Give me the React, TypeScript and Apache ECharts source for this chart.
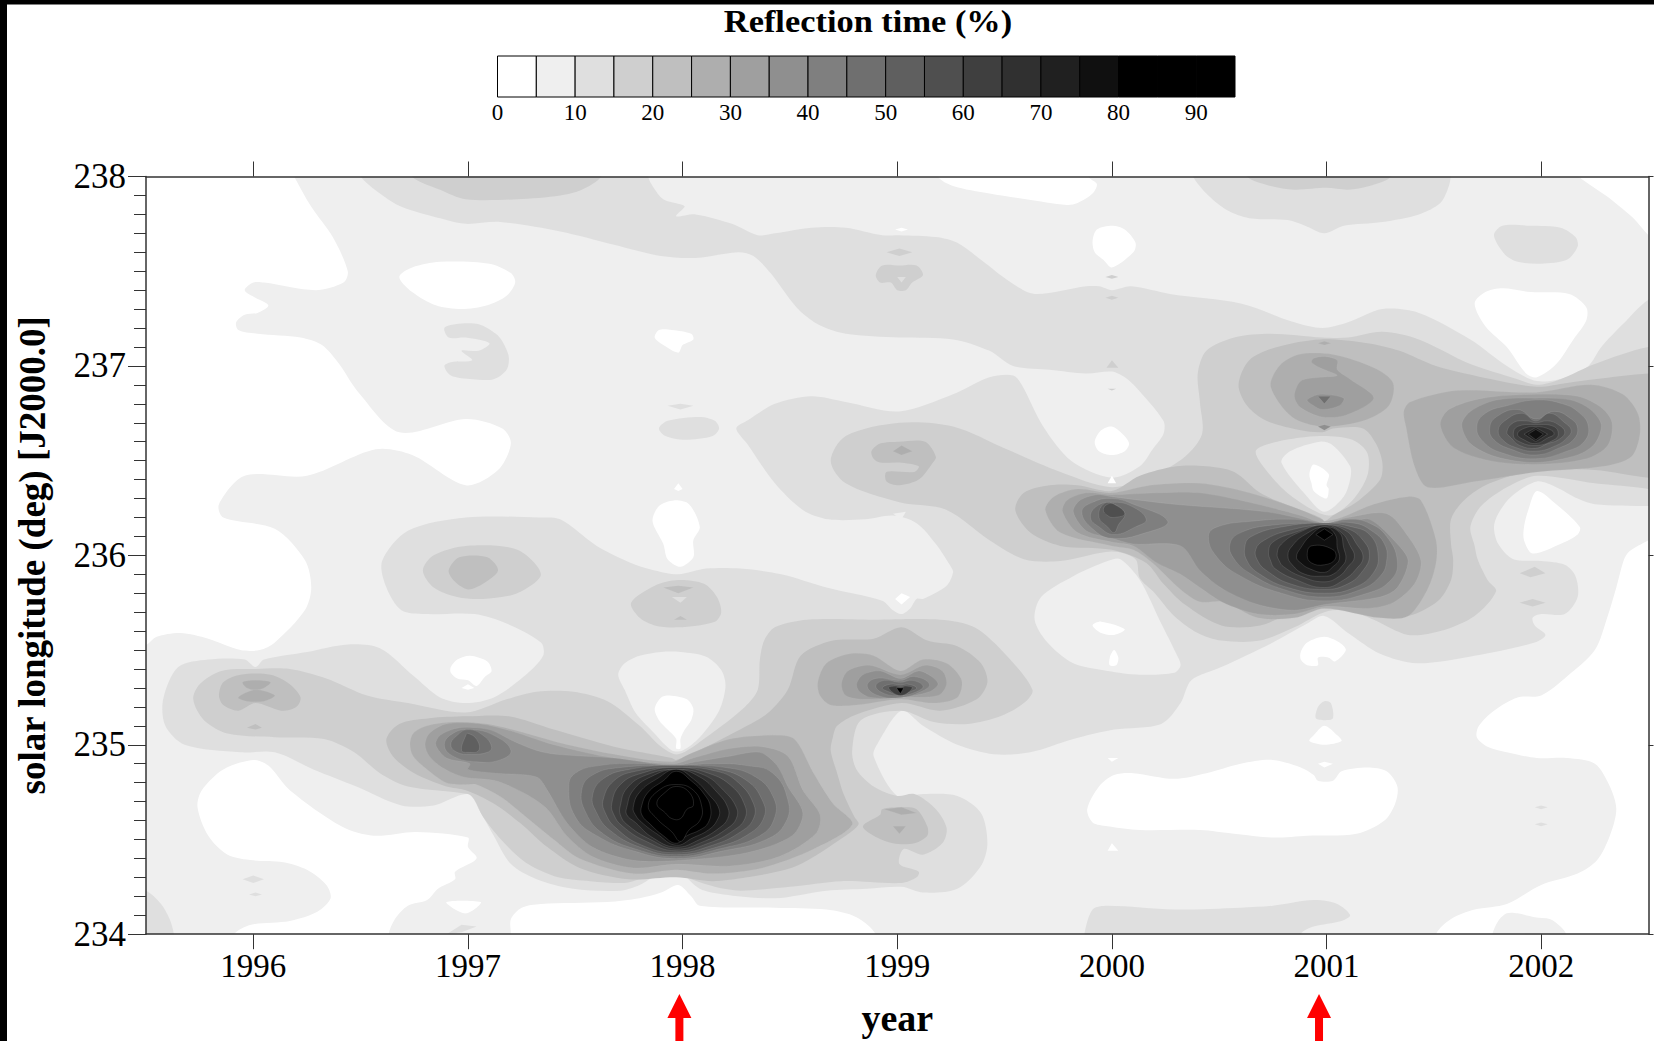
import React, { useEffect, useRef } from "react";
import * as echarts from "echarts";

const yearTicks = [1996, 1997, 1998, 1999, 2000, 2001, 2002];
const legendTicks = [0, 10, 20, 30, 40, 50, 60, 70, 80, 90];
const legendLevels = [0, 5, 10, 15, 20, 25, 30, 35, 40, 45, 50, 55, 60, 65, 70, 75, 80, 85, 90];
const arrowYears = [1997.985, 2000.965];
const levelShades: Record<number, string> = {
  0: "#ffffff", 5: "#efefef", 10: "#dfdfdf", 15: "#cfcfcf", 20: "#bfbfbf", 25: "#aeaeae", 30: "#9f9f9f",
  35: "#8f8f8f", 40: "#7f7f7f", 45: "#6f6f6f", 50: "#5f5f5f", 55: "#4f4f4f", 60: "#3f3f3f", 65: "#303030",
  70: "#202020", 75: "#101010", 80: "#000000", 85: "#000000", 90: "#000000",
};

const base5 = [[1995.5,234, 2002.5,234, 2002.5,238, 1995.5,238]];
const regions10 = [
  [1996.47,238.1, 1996.5,238, 1996.59,237.91, 1996.69,237.84, 1996.9,237.77, 1996.99,237.75, 1997.15,237.76, 1997.43,237.71, 1997.68,237.64, 1997.9,237.58, 1998.06,237.57, 1998.26,237.6, 1998.33,237.58, 1998.41,237.49, 1998.53,237.31, 1998.63,237.22, 1998.76,237.17, 1999.01,237.15, 1999.26,237.14, 1999.43,237.08, 1999.54,237, 1999.71,236.98, 1999.88,236.96, 2000,236.97, 2000.06,236.94, 2000.11,236.89, 2000.24,236.71, 2000.24,236.64, 2000.19,236.56, 2000.13,236.47, 2000,236.41, 1999.81,236.5, 1999.68,236.68, 1999.58,236.9, 1999.54,236.95, 1999.43,236.94, 1999.26,236.85, 1999.01,236.76, 1998.76,236.81, 1998.6,236.84, 1998.43,236.8, 1998.3,236.71, 1998.25,236.67, 1998.3,236.59, 1998.43,236.38, 1998.56,236.24, 1998.68,236.19, 1998.85,236.19, 1998.98,236.21, 1999.09,236.17, 1999.18,236.06, 1999.25,235.94, 1999.26,235.91, 1999.23,235.84, 1999.12,235.77, 1999.09,235.77, 1999.06,235.72, 1999.02,235.69, 1998.98,235.71, 1998.93,235.76, 1998.67,235.83, 1998.46,235.9, 1998.27,235.93, 1998.11,235.93, 1997.98,235.9, 1997.87,235.92, 1997.76,235.96, 1997.6,236.05, 1997.43,236.19, 1997.33,236.2, 1996.99,236.2, 1996.72,236.13, 1996.6,235.97, 1996.62,235.83, 1996.69,235.71, 1996.8,235.69, 1997.03,235.69, 1997.18,235.64, 1997.34,235.54, 1997.35,235.47, 1997.26,235.36, 1997.12,235.25, 1996.99,235.22, 1996.87,235.25, 1996.75,235.36, 1996.59,235.51, 1996.44,235.53, 1996.25,235.49, 1996.05,235.45, 1996.01,235.41, 1995.96,235.45, 1995.79,235.45, 1995.65,235.41, 1995.58,235.24, 1995.59,235.1, 1995.68,235, 1995.94,234.96, 1996.1,234.96, 1996.28,234.87, 1996.48,234.78, 1996.69,234.68, 1996.84,234.68, 1997,234.74, 1997.06,234.64, 1997.12,234.52, 1997.2,234.37, 1997.32,234.29, 1997.49,234.24, 1997.71,234.23, 1997.8,234.26, 1997.88,234.31, 1997.98,234.33, 1998.08,234.24, 1998.19,234.21, 1998.43,234.19, 1998.67,234.23, 1998.86,234.24, 1999.02,234.25, 1999.12,234.22, 1999.28,234.24, 1999.39,234.36, 1999.42,234.48, 1999.39,234.64, 1999.28,234.73, 1999.12,234.74, 1999,234.73, 1998.89,234.94, 1998.91,235.01, 1999.02,235.18, 1999.12,235.1, 1999.28,235, 1999.45,234.95, 1999.62,234.96, 1999.82,235.03, 2000.01,235.08, 2000.23,235.11, 2000.32,235.22, 2000.37,235.34, 2000.51,235.41, 2000.75,235.54, 2000.91,235.64, 2000.99,235.68, 2001.1,235.59, 2001.25,235.48, 2001.42,235.43, 2001.69,235.47, 2001.97,235.54, 2002.02,235.58, 2001.97,235.63, 2001.96,235.67, 2002,235.69, 2002.11,235.69, 2002.17,235.78, 2002.16,235.89, 2002.11,235.95, 2002,235.97, 2001.87,235.98, 2001.8,236.06, 2001.78,236.15, 2001.8,236.22, 2001.86,236.31, 2001.98,236.39, 2002.07,236.36, 2002.17,236.3, 2002.25,236.27, 2002.5,236.26, 2002.7,236.26, 2002.7,237.45, 2002.5,237.35, 2002.38,237.22, 2002.28,237.1, 2002.22,237, 2002.12,236.94, 2001.98,236.92, 2001.84,237, 2001.67,237.14, 2001.43,237.28, 2001.26,237.3, 2001.1,237.23, 2000.98,237.2, 2000.85,237.23, 2000.6,237.33, 2000.27,237.38, 2000.09,237.42, 2000,237.4, 1999.94,237.42, 1999.88,237.42, 1999.64,237.38, 1999.53,237.44, 1999.39,237.56, 1999.28,237.65, 1999.18,237.68, 1999.01,237.69, 1998.93,237.69, 1998.76,237.73, 1998.6,237.73, 1998.43,237.7, 1998.35,237.69, 1998.23,237.75, 1998.06,237.8, 1997.97,237.79, 1998.01,237.84, 1998,237.85, 1997.91,237.88, 1997.86,237.95, 1997.84,238, 1997.84,238.1],
  [2000.37,238.02, 2000.44,237.91, 2000.54,237.82, 2000.64,237.78, 2000.82,237.77, 2000.9,237.74, 2000.99,237.7, 2001.08,237.74, 2001.26,237.76, 2001.43,237.8, 2001.53,237.86, 2001.57,237.95, 2001.58,238.02, 2001.58,238.15, 2000.37,238.15],
  [2001.78,237.69, 2001.82,237.74, 2001.95,237.74, 2002.09,237.73, 2002.16,237.68, 2002.17,237.63, 2002.12,237.56, 2002,237.54, 2001.89,237.55, 2001.83,237.59],
  [1996.89,237.2, 1996.94,237.22, 1997.05,237.22, 1997.13,237.17, 1997.16,237.13, 1997.19,237.05, 1997.18,236.98, 1997.12,236.93, 1997.02,236.93, 1996.92,236.95, 1996.89,237, 1996.92,237.02, 1997.02,237.03, 1996.97,237.08, 1997.05,237.08, 1997.1,237.12, 1996.99,237.15, 1996.91,237.15],
  [1997.89,236.67, 1997.93,236.71, 1998.08,236.73, 1998.15,236.71, 1998.17,236.67, 1998.14,236.63, 1998.01,236.61, 1997.92,236.63],
  [1997.93,236.79, 1997.99,236.8, 1998.05,236.79, 1997.99,236.77],
  [1995.5,234.23, 1995.57,234.16, 1995.61,234.08, 1995.63,234, 1995.63,233.93, 1995.4,233.93, 1995.4,234.25],
  [1999.87,233.9, 1999.87,233.99, 1999.91,234.13, 1999.98,234.15, 2000.29,234.13, 2000.6,234.14, 2000.75,234.15, 2000.94,234.18, 2001.05,234.16, 2001.11,234.1, 2001.07,234.07, 2000.94,234.04, 2000.88,234, 2000.88,233.9],
  [2000.95,235.14, 2000.96,235.2, 2000.99,235.23, 2001.02,235.22, 2001.03,235.14, 2000.99,235.13],
  [1995.95,234.29, 1996,234.31, 1996.05,234.29, 1996,234.27],
  [1995.98,234.21, 1996.01,234.22, 1996.04,234.21, 1996.01,234.2],
  [1996.9,234, 1996.97,234.05, 1997.04,234.04, 1996.97,234.01],
  [2001.97,234.67, 2002,234.68, 2002.03,234.67, 2002,234.66],
  [2001.97,234.58, 2002,234.59, 2002.03,234.58, 2002,234.57],
];
const islands5 = [
  [1997.7,235.37, 1997.73,235.43, 1997.8,235.47, 1997.9,235.49, 1997.99,235.49, 1998.11,235.465, 1998.18,235.395, 1998.2,235.31, 1998.17,235.18, 1998.08,235.04, 1998,234.97, 1997.95,234.97, 1997.86,235.07, 1997.78,235.17, 1997.73,235.29],
  [1999.64,235.66, 1999.67,235.78, 1999.82,235.89, 1999.98,235.97, 2000.04,235.98, 2000.13,235.87, 2000.23,235.64, 2000.3,235.48, 2000.32,235.42, 2000.29,235.38, 2000.13,235.37, 1999.98,235.39, 1999.82,235.43, 1999.7,235.54],
  [1998.98,236.22, 1999.04,236.23, 1999.02,236.19],
];
const regions0 = [
  [1995.3,238.3, 1996.17,238.05, 1996.19,238, 1996.27,237.84, 1996.37,237.68, 1996.44,237.5, 1996.42,237.44, 1996.29,237.4, 1996.05,237.44, 1996,237.44, 1995.96,237.4, 1996.01,237.36, 1996.07,237.32, 1996.02,237.28, 1995.96,237.27, 1995.92,237.23, 1995.93,237.19, 1996.02,237.17, 1996.22,237.15, 1996.32,237.11, 1996.4,237.01, 1996.49,236.86, 1996.68,236.65, 1996.99,236.72, 1997.16,236.67, 1997.2,236.59, 1997.14,236.45, 1996.99,236.37, 1996.74,236.53, 1996.57,236.56, 1996.25,236.42, 1995.96,236.42, 1995.84,236.27, 1995.86,236.2, 1996.1,236.14, 1996.24,235.975, 1996.27,235.83, 1996.24,235.71, 1996.1,235.54, 1996.03,235.5, 1995.94,235.5, 1995.79,235.56, 1995.66,235.59, 1995.55,235.57, 1995.5,235.527, 1995.3,235.45],
  [1996.68,237.47, 1996.74,237.52, 1996.87,237.55, 1997.1,237.54, 1997.2,237.49, 1997.22,237.44, 1997.18,237.37, 1997.09,237.32, 1996.97,237.3, 1996.85,237.32, 1996.74,237.39],
  [1995.74,234.67, 1995.76,234.76, 1995.86,234.87, 1996,234.92, 1996.07,234.89, 1996.17,234.76, 1996.41,234.57, 1996.56,234.52, 1996.76,234.54, 1997,234.51, 1997,234.46, 1997.04,234.4, 1996.94,234.33, 1996.94,234.29, 1996.86,234.24, 1996.81,234.18, 1996.72,234.15, 1996.66,234.08, 1996.63,234, 1996.63,233.93, 1995.91,233.93, 1995.91,234, 1995.99,234.05, 1996.17,234.07, 1996.3,234.12, 1996.36,234.19, 1996.34,234.26, 1996.25,234.34, 1996.14,234.38, 1996,234.39, 1995.88,234.42, 1995.79,234.52],
  [1996.9,234.17, 1997.06,234.17, 1997.04,234.14, 1996.99,234.11, 1996.94,234.13],
  [1997.2,233.9, 1997.2,234, 1997.2,234.08, 1997.25,234.14, 1997.34,234.16, 1997.65,234.17, 1997.8,234.19, 1997.9,234.22, 1997.98,234.26, 1998.04,234.2, 1998.08,234.15, 1998.43,234.14, 1998.67,234.13, 1998.81,234.09, 1998.9,234, 1998.9,233.9],
  [1996.92,235.41, 1996.95,235.45, 1997.01,235.47, 1997.09,235.44, 1997.11,235.39, 1997.08,235.36, 1997.04,235.31, 1997,235.34, 1996.95,235.35, 1996.92,235.38],
  [1996.97,235.3, 1997,235.32, 1997.03,235.3, 1997,235.29],
  [1997.87,235.19, 1997.9,235.25, 1997.94,235.26, 1998.02,235.24, 1998.05,235.19, 1998.04,235.13, 1998.01,235.08, 1997.99,235.03, 1997.99,234.98, 1997.97,234.98, 1997.97,235.03, 1997.93,235.08, 1997.89,235.13],
  [1997.86,236.18, 1997.89,236.26, 1997.96,236.29, 1998.03,236.27, 1998.08,236.15, 1998.05,236.08, 1998.05,235.99, 1997.99,235.94, 1997.93,235.98, 1997.91,236.06],
  [1997.96,236.35, 1997.98,236.38, 1998,236.35, 1997.98,236.34],
  [1997.87,237.15, 1997.89,237.19, 1997.95,237.19, 1998.04,237.17, 1998.05,237.14, 1998,237.11, 1997.98,237.07, 1997.91,237.11],
  [1998.99,237.72, 1999.02,237.73, 1999.05,237.72, 1999.02,237.71],
  [1999.19,238.1, 1999.19,238, 1999.26,237.95, 1999.43,237.91, 1999.6,237.88, 1999.79,237.85, 1999.84,237.86, 1999.91,237.91, 1999.93,237.96, 1999.89,238, 1999.89,238.1],
  [1999.91,237.66, 1999.93,237.72, 2000,237.74, 2000.06,237.72, 2000.11,237.65, 2000.1,237.6, 2000,237.52, 1999.96,237.56, 1999.92,237.6],
  [1999.92,236.6, 1999.95,236.66, 2000,236.68, 2000.05,236.64, 2000.08,236.59, 2000.06,236.55, 2000,236.53, 1999.94,236.55],
  [2000,236.42, 2000.02,236.38, 1999.98,236.38],
  [2001.69,237.33, 2001.74,237.39, 2001.82,237.41, 2001.95,237.39, 2002.13,237.38, 2002.21,237.31, 2002.21,237.24, 2002.15,237.14, 2002.07,237.01, 2001.98,236.94, 2001.93,236.96, 2001.84,237.1, 2001.74,237.21],
  [2001.98,236.34, 2002.07,236.27, 2002.18,236.15, 2002.17,236.11, 2002.09,236.06, 2001.96,236.01, 2001.92,236.08, 2001.92,236.15, 2001.94,236.24],
  [2002.7,233.9, 2001.51,233.9, 2001.51,234, 2001.58,234.08, 2001.69,234.13, 2001.84,234.16, 2002,234.26, 2002.17,234.32, 2002.26,234.39, 2002.32,234.52, 2002.35,234.66, 2002.32,234.78, 2002.25,234.9, 2002.12,234.93, 2001.98,234.93, 2001.84,234.96, 2001.75,234.99, 2001.7,235.04, 2001.71,235.1, 2001.78,235.18, 2001.89,235.25, 2002,235.26, 2002.12,235.36, 2002.25,235.5, 2002.31,235.68, 2002.35,235.83, 2002.385,235.975, 2002.41,236.02, 2002.5,236.08, 2002.7,236.2],
  [2002.15,238.05, 2002.33,237.875, 2002.43,237.78, 2002.5,237.69, 2002.7,237.5, 2002.7,238.2],
  [1999.885,234.66, 1999.94,234.78, 2000.01,234.84, 2000.1,234.85, 2000.29,234.82, 2000.44,234.85, 2000.6,234.9, 2000.75,234.92, 2000.88,234.88, 2000.94,234.84, 2000.96,234.81, 2001.03,234.81, 2001.07,234.86, 2001.19,234.88, 2001.28,234.86, 2001.33,234.78, 2001.32,234.69, 2001.27,234.6, 2001.14,234.53, 2000.91,234.52, 2000.75,234.51, 2000.57,234.53, 2000.41,234.55, 2000.13,234.55, 1999.98,234.57, 1999.91,234.59],
  [1999.91,235.63, 1999.95,235.65, 2000.06,235.61, 2000.01,235.58, 1999.95,235.59],
  [1999.99,235.46, 2000.01,235.5, 2000.03,235.46, 2000.02,235.42, 1999.99,235.42],
  [1999.98,234.93, 2000.03,234.93, 2000,234.91],
  [1999.98,234.44, 2000,234.48, 2000.03,234.44],
  [2000.88,235.49, 2000.91,235.54, 2000.99,235.57, 2001.06,235.54, 2001.09,235.5, 2001.04,235.44, 2001.01,235.46, 2000.96,235.46, 2000.96,235.42, 2000.91,235.42, 2000.88,235.45],
  [2000.92,235.02, 2000.94,235.05, 2000.99,235.1, 2001.05,235.05, 2001.07,235.02, 2000.99,235],
  [2000.96,234.9, 2000.99,234.91, 2001.03,234.9, 2000.99,234.88],
  [1998.99,235.77, 1999.02,235.8, 1999.06,235.78, 1999.02,235.74],
];
const regions15 = [
  [1996.74,238.1, 1996.74,238, 1996.87,237.93, 1996.99,237.88, 1997.23,237.88, 1997.43,237.9, 1997.53,237.93, 1997.62,238, 1997.62,238.1],
  [2000.63,238.1, 2000.63,238, 2000.74,237.95, 2000.85,237.93, 2001,237.94, 2001.1,237.93, 2001.2,237.95, 2001.3,238, 2001.3,238.1],
  [1998.9,237.48, 1998.93,237.53, 1999.01,237.53, 1999.09,237.53, 1999.12,237.48, 1999.07,237.44, 1999.04,237.4, 1999,237.4, 1998.97,237.44, 1998.92,237.44],
  [1998.95,237.6, 1999.01,237.62, 1999.07,237.6, 1999.01,237.58],
  [1996.79,235.92, 1996.84,236, 1996.99,236.05, 1997.23,236.03, 1997.34,235.9, 1997.23,235.8, 1997.07,235.77, 1996.95,235.78, 1996.84,235.83],
  [1997.76,235.75, 1997.87,235.84, 1997.98,235.87, 1998.1,235.85, 1998.16,235.78, 1998.18,235.7, 1998.15,235.65, 1997.98,235.62, 1997.87,235.63, 1997.8,235.67],
  [1995.72,235.24, 1995.75,235.32, 1995.85,235.39, 1996.01,235.4, 1996.17,235.4, 1996.34,235.35, 1996.53,235.26, 1996.72,235.22, 1996.99,235.17, 1997.18,235.24, 1997.32,235.28, 1997.49,235.28, 1997.65,235.23, 1997.8,235.1, 1997.9,234.99, 1997.98,234.95, 1998.11,235.04, 1998.29,235.2, 1998.35,235.29, 1998.36,235.45, 1998.38,235.55, 1998.43,235.62, 1998.58,235.66, 1998.89,235.66, 1999.2,235.66, 1999.36,235.62, 1999.51,235.47, 1999.63,235.29, 1999.59,235.22, 1999.48,235.15, 1999.33,235.11, 1999.17,235.12, 1999.02,235.18, 1998.83,235.13, 1998.79,234.97, 1998.81,234.87, 1998.89,234.78, 1999,234.73, 1999.08,234.74, 1999.18,234.66, 1999.23,234.56, 1999.21,234.48, 1999.12,234.42, 1999.03,234.45, 1999.01,234.37, 1999.1,234.33, 1999.09,234.3, 1999.02,234.27, 1998.74,234.28, 1998.5,234.25, 1998.27,234.23, 1998.15,234.25, 1998.02,234.3, 1997.98,234.34, 1997.9,234.31, 1997.8,234.29, 1997.73,234.27, 1997.57,234.28, 1997.42,234.3, 1997.28,234.37, 1997.17,234.48, 1997.07,234.62, 1997.03,234.71, 1997,234.74, 1996.72,234.78, 1996.59,234.85, 1996.47,234.96, 1996.33,235.03, 1996.1,235.04, 1995.88,235.06, 1995.77,235.13],
  [1998.69,236.5, 1998.76,236.63, 1999.01,236.7, 1999.26,236.68, 1999.51,236.56, 1999.76,236.44, 2000,236.36, 2000.19,236.42, 2000.34,236.52, 2000.42,236.64, 2000.41,236.81, 2000.4,236.96, 2000.44,237.08, 2000.57,237.15, 2000.74,237.17, 2000.98,237.15, 2001.1,237.15, 2001.26,237.18, 2001.43,237.14, 2001.67,237.01, 2001.89,236.93, 2001.98,236.9, 2002.09,236.93, 2002.25,237.01, 2002.5,237.1, 2002.7,237.1, 2002.7,236.3, 2002.5,236.35, 2002.25,236.38, 2001.98,236.42, 2001.84,236.36, 2001.72,236.26, 2001.67,236.15, 2001.69,236.05, 2001.705,235.975, 2001.75,235.87, 2001.79,235.81, 2001.69,235.68, 2001.53,235.6, 2001.38,235.58, 2001.22,235.66, 2001.1,235.71, 2000.99,235.7, 2000.85,235.62, 2000.69,235.55, 2000.51,235.55, 2000.4,235.59, 2000.29,235.68, 2000.2,235.8, 2000.13,235.88, 2000.11,235.98, 2000,236.02, 1999.76,235.97, 1999.59,235.98, 1999.43,236.08, 1999.23,236.24, 1999.01,236.28, 1998.76,236.38],
  [2001.9,235.905, 2001.97,235.94, 2002.02,235.905, 2001.95,235.885],
  [2001.9,235.75, 2001.96,235.77, 2002.02,235.75, 2001.96,235.73],
  [2000,237.48, 2000.03,237.47, 2000,237.46, 1999.97,237.47],
  [2000,237.37, 2000.03,237.36, 2000,237.35, 1999.97,237.36],
  [1999.975,236.99, 2000,237.03, 2000.03,236.99],
  [1999.98,236.88, 2000.02,236.88, 2000,236.87],
];
const channel10 = [
  [2000.67,236.55, 2000.77,236.6, 2000.97,236.63, 2001.12,236.61, 2001.19,236.54, 2001.19,236.42, 2001.12,236.29, 2001.01,236.21, 2000.84,236.31, 2000.74,236.42],
  [1999,237.47, 1999.04,237.47, 1999.02,237.44],
  [1997.95,235.78, 1998.02,235.78, 1997.99,235.75],
];
const channel5 = [
  [2000.79,236.49, 2000.83,236.55, 2000.97,236.6, 2001.03,236.58, 2001.11,236.47, 2001.11,236.4, 2001.08,236.31, 2000.99,236.23, 2000.91,236.31],
  [2001.77,233.9, 2001.77,233.99, 2001.8,234.07, 2001.84,234.11, 2001.89,234.11, 2001.97,234.09, 2002.04,234.08, 2002.09,234.04, 2002.12,233.99, 2002.12,233.9],
];
const channel0 = [
  [2000.92,236.43, 2000.94,236.48, 2001.01,236.43, 2001,236.37, 2001.01,236.35, 2001,236.3, 2000.94,236.34, 2000.93,236.38],
];
const regions20 = [
  [1996.62,235.03, 1996.68,235.11, 1996.82,235.14, 1996.99,235.15, 1997.19,235.15, 1997.4,235.08, 1997.68,234.99, 1997.95,234.93, 1997.97,234.92, 1998.06,234.96, 1998.3,235.1, 1998.4,235.17, 1998.49,235.29, 1998.55,235.47, 1998.7,235.55, 1998.89,235.56, 1999.02,235.62, 1999.14,235.55, 1999.28,235.52, 1999.39,235.43, 1999.42,235.33, 1999.37,235.24, 1999.2,235.18, 1999.02,235.22, 1998.81,235.16, 1998.72,235.1, 1998.7,235.04, 1998.69,234.97, 1998.72,234.85, 1998.75,234.74, 1998.8,234.62, 1998.82,234.58, 1998.76,234.52, 1998.53,234.36, 1998.3,234.3, 1998.14,234.28, 1997.97,234.3, 1997.75,234.29, 1997.52,234.35, 1997.37,234.46, 1997.24,234.59, 1997.12,234.69, 1996.99,234.76, 1996.9,234.78, 1996.75,234.85, 1996.65,234.94],
  [1998.84,234.57, 1998.92,234.63, 1998.93,234.66, 1999.02,234.67, 1999.09,234.66, 1999.14,234.57, 1999.14,234.52, 1999.08,234.48, 1998.98,234.48, 1998.89,234.52],
  [1995.84,235.26, 1995.86,235.33, 1995.94,235.37, 1996.08,235.37, 1996.17,235.32, 1996.22,235.25, 1996.2,235.2, 1996.13,235.18, 1996.01,235.22, 1995.93,235.18, 1995.86,235.21],
  [1995.97,235.09, 1996.01,235.11, 1996.04,235.09, 1996.01,235.08],
  [1998.88,236.55, 1998.92,236.59, 1999.01,236.6, 1999.13,236.6, 1999.18,236.52, 1999.16,236.48, 1999.1,236.4, 1999.01,236.37, 1998.95,236.39, 1998.95,236.44, 1999.08,236.44, 1999.1,236.47, 1999.01,236.49, 1998.92,236.49, 1998.89,236.51],
  [1996.91,235.92, 1996.96,235.99, 1997.09,235.99, 1997.14,235.92, 1997.07,235.85, 1997,235.82, 1996.94,235.86],
  [1997.91,235.83, 1997.98,235.84, 1998.05,235.83, 1997.98,235.8],
  [1997.96,235.66, 1997.99,235.68, 1998.02,235.66],
  [2000.59,236.9, 2000.64,237.03, 2000.77,237.1, 2000.97,237.14, 2001.19,237.12, 2001.34,237.08, 2001.51,237, 2001.77,236.93, 2001.98,236.89, 2002.12,236.91, 2002.25,236.93, 2002.5,236.96, 2002.7,236.96, 2002.7,236.41, 2002.5,236.41, 2002.25,236.45, 2001.98,236.45, 2001.76,236.38, 2001.64,236.29, 2001.58,236.19, 2001.58,236.06, 2001.59,235.975, 2001.58,235.87, 2001.52,235.76, 2001.38,235.68, 2001.22,235.7, 2001.1,235.74, 2000.99,235.75, 2000.86,235.71, 2000.69,235.63, 2000.51,235.63, 2000.34,235.74, 2000.24,235.85, 2000.16,235.96, 2000,236.03, 1999.76,236.05, 1999.62,236.12, 1999.55,236.24, 1999.59,236.33, 1999.71,236.37, 1999.84,236.37, 2000,236.34, 2000.13,236.42, 2000.3,236.47, 2000.44,236.47, 2000.57,236.44, 2000.69,236.33, 2000.81,236.27, 2000.97,236.2, 2000.99,236.18, 2001.03,236.21, 2001.15,236.29, 2001.25,236.4, 2001.26,236.49, 2001.23,236.59, 2001.17,236.67, 2001.03,236.67, 2000.98,236.65, 2000.88,236.66, 2000.72,236.71, 2000.63,236.79],
];
const regions25 = [
  [1996.73,235, 1996.745,235.06, 1996.81,235.1, 1996.93,235.12, 1997.09,235.11, 1997.24,235.07, 1997.43,235.01, 1997.68,234.95, 1997.95,234.91, 1998.03,234.95, 1998.22,235.03, 1998.42,235.05, 1998.52,235.03, 1998.61,234.85, 1998.7,234.69, 1998.79,234.58, 1998.61,234.45, 1998.37,234.35, 1998.14,234.32, 1997.97,234.34, 1997.77,234.32, 1997.52,234.4, 1997.4,234.5, 1997.27,234.62, 1997.16,234.72, 1997.04,234.79, 1996.99,234.79, 1996.9,234.8, 1996.81,234.87, 1996.745,234.94],
  [1999.69,236.24, 1999.73,236.31, 1999.84,236.35, 2000,236.33, 2000.18,236.37, 2000.41,236.38, 2000.64,236.33, 2000.88,236.24, 2000.98,236.19, 2000.99,236.18, 2001.07,236.2, 2001.22,236.27, 2001.38,236.31, 2001.44,236.29, 2001.51,236.08, 2001.51,235.96, 2001.47,235.82, 2001.38,235.68, 2001.25,235.67, 2000.99,235.72, 2000.85,235.67, 2000.68,235.67, 2000.52,235.755, 2000.41,235.755, 2000.32,235.82, 2000.19,235.96, 2000.1,236.03, 2000,236.05, 1999.76,236.12],
  [2000.74,236.89, 2000.78,237, 2000.87,237.06, 2001.03,237.06, 2001.22,236.99, 2001.31,236.91, 2001.29,236.79, 2001.17,236.71, 2000.98,236.68, 2000.84,236.73],
  [2000.96,237.12, 2000.99,237.13, 2001.02,237.12, 2000.99,237.11],
  [2001.36,236.76, 2001.39,236.81, 2001.61,236.87, 2001.975,236.86, 2002.23,236.9, 2002.38,236.85, 2002.45,236.75, 2002.46,236.64, 2002.42,236.52, 2002.29,236.47, 2001.98,236.44, 2001.69,236.39, 2001.47,236.36, 2001.41,236.47, 2001.37,236.68],
  [1998.63,235.33, 1998.67,235.43, 1998.78,235.48, 1998.89,235.47, 1999.015,235.39, 1999.12,235.45, 1999.23,235.43, 1999.3,235.34, 1999.28,235.25, 1999.17,235.22, 1999.015,235.24, 1998.81,235.21, 1998.69,235.21, 1998.64,235.26],
  [1995.95,235.33, 1996.01,235.34, 1996.08,235.33, 1996.05,235.3, 1996.01,235.29, 1995.97,235.3],
  [1995.93,235.25, 1996.01,235.29, 1996.1,235.26, 1996.05,235.23, 1995.97,235.23],
  [1998.98,236.55, 1999.02,236.58, 1999.07,236.55, 1999.02,236.53],
  [1998.98,234.57, 1999.04,234.57, 1999.01,234.53],
  [1998.94,234.66, 1999.02,234.67, 1999.09,234.64, 1999.02,234.63],
];
const regions30 = [
  [1996.8,235, 1996.82,235.06, 1996.9,235.11, 1997.06,235.11, 1997.21,235.07, 1997.4,235, 1997.68,234.93, 1997.96,234.9, 1998.05,234.93, 1998.22,234.98, 1998.37,234.99, 1998.49,234.94, 1998.56,234.76, 1998.64,234.63, 1998.62,234.53, 1998.45,234.41, 1998.22,234.36, 1997.97,234.37, 1997.77,234.35, 1997.58,234.41, 1997.46,234.52, 1997.37,234.66, 1997.27,234.74, 1997.13,234.81, 1996.98,234.83, 1996.88,234.88, 1996.82,234.94],
  [1999.77,236.23, 1999.79,236.29, 1999.88,236.33, 2000,236.32, 2000.21,236.33, 2000.41,236.33, 2000.64,236.28, 2000.88,236.21, 2000.99,236.17, 2001.1,236.2, 2001.28,236.22, 2001.38,236.1, 2001.44,235.97, 2001.41,235.85, 2001.31,235.75, 2001.19,235.72, 2000.99,235.73, 2000.85,235.69, 2000.68,235.69, 2000.52,235.75, 2000.41,235.83, 2000.32,235.9, 2000.21,235.96, 2000.1,236.05, 2000,236.07, 1999.84,236.12],
  [2000.85,236.84, 2000.88,236.92, 2000.97,236.94, 2001.05,236.95, 2000.97,236.99, 2000.93,237.02, 2000.94,237.04, 2000.99,237.05, 2001.05,237.03, 2001.05,236.98, 2001.11,236.93, 2001.22,236.83, 2001.09,236.74, 2000.98,236.73, 2000.88,236.78],
  [2001.53,236.69, 2001.57,236.77, 2001.73,236.83, 2001.975,236.85, 2002.17,236.84, 2002.28,236.78, 2002.33,236.7, 2002.31,236.58, 2002.21,236.51, 2001.975,236.48, 2001.76,236.5, 2001.59,236.57],
  [1998.74,235.32, 1998.77,235.39, 1998.87,235.42, 1999.015,235.37, 1999.13,235.42, 1999.21,235.39, 1999.23,235.32, 1999.19,235.26, 1999.015,235.25, 1998.84,235.24, 1998.76,235.26],
];
const regions35 = [
  [1996.85,235, 1996.87,235.05, 1996.96,235.09, 1997.1,235.08, 1997.21,235.02, 1997.32,234.97, 1997.41,234.95, 1997.68,234.93, 1997.96,234.89, 1998.06,234.91, 1998.22,234.94, 1998.36,234.96, 1998.44,234.89, 1998.49,234.78, 1998.56,234.64, 1998.51,234.52, 1998.3,234.43, 1997.99,234.39, 1997.77,234.39, 1997.58,234.46, 1997.46,234.59, 1997.37,234.76, 1997.32,234.83, 1997.13,234.85, 1997,234.87, 1997.01,234.9, 1996.9,234.93],
  [1999.82,236.23, 1999.85,236.29, 1999.93,236.32, 2000,236.31, 2000.29,236.27, 2000.72,236.23, 2000.99,236.17, 2001.1,236.17, 2001.2,236.19, 2001.33,236.06, 2001.38,235.97, 2001.33,235.83, 2001.25,235.78, 2000.99,235.74, 2000.85,235.71, 2000.68,235.74, 2000.52,235.82, 2000.41,235.92, 2000.32,236.05, 2000.1,236.06, 2000,236.09, 1999.88,236.13],
  [2000.91,236.82, 2000.97,236.85, 2001.08,236.83, 2001.06,236.79, 2000.98,236.77, 2000.94,236.79],
  [2000.96,236.68, 2000.99,236.69, 2001.02,236.68, 2000.99,236.66],
  [2001.63,236.69, 2001.67,236.76, 2001.79,236.82, 2001.975,236.83, 2002.14,236.82, 2002.23,236.77, 2002.28,236.69, 2002.25,236.59, 2002.17,236.53, 2001.975,236.49, 2001.79,236.52, 2001.67,236.59],
  [1998.81,235.32, 1998.84,235.37, 1998.92,235.39, 1999.015,235.35, 1999.1,235.39, 1999.16,235.36, 1999.19,235.32, 1999.15,235.28, 1999.015,235.25, 1998.875,235.25, 1998.825,235.28],
];
const regions40 = [
  [1996.89,235, 1996.93,235.06, 1997.01,235.08, 1997.12,235.05, 1997.2,234.97, 1997.15,234.92, 1997.04,234.91, 1996.93,234.94],
  [1997.47,234.78, 1997.5,234.85, 1997.61,234.89, 1997.8,234.9, 1997.97,234.89, 1998.14,234.9, 1998.3,234.89, 1998.42,234.85, 1998.49,234.71, 1998.48,234.59, 1998.39,234.5, 1998.19,234.44, 1997.97,234.4, 1997.77,234.44, 1997.6,234.52, 1997.5,234.62],
  [1999.86,236.23, 1999.91,236.28, 2000,236.3, 2000.1,236.27, 2000.26,236.18, 2000.16,236.12, 2000,236.09, 1999.91,236.14],
  [2000.45,236.1, 2000.49,236.15, 2000.65,236.18, 2000.85,236.19, 2000.99,236.17, 2001.11,236.19, 2001.2,236.17, 2001.28,236.1, 2001.33,235.97, 2001.3,235.87, 2001.19,235.8, 2000.99,235.76, 2000.79,235.8, 2000.6,235.89, 2000.49,235.99],
  [2001.7,236.68, 2001.74,236.75, 2001.84,236.79, 2001.975,236.82, 2002.1,236.8, 2002.18,236.75, 2002.22,236.68, 2002.2,236.6, 2002.12,236.55, 2001.975,236.51, 2001.82,236.54, 2001.73,236.6],
  [1998.86,235.31, 1998.9,235.35, 1999.015,235.34, 1999.08,235.36, 1999.15,235.32, 1999.11,235.28, 1999.015,235.25, 1998.91,235.26],
];
const regions45 = [
  [1996.92,235, 1996.95,235.05, 1997,235.08, 1997.07,235.05, 1997.11,234.99, 1997.09,234.96, 1997.01,234.95, 1996.95,234.96],
  [1997.53,234.76, 1997.58,234.84, 1997.71,234.88, 1997.97,234.89, 1998.2,234.88, 1998.34,234.83, 1998.42,234.73, 1998.43,234.62, 1998.36,234.52, 1998.17,234.45, 1997.97,234.41, 1997.78,234.45, 1997.63,234.53, 1997.55,234.64],
  [1999.9,236.2, 1999.93,236.26, 2000,236.28, 2000.09,236.26, 2000.16,236.19, 2000.11,236.15, 2000.01,236.11, 1999.94,236.15],
  [2000.55,236.06, 2000.6,236.12, 2000.75,236.16, 2000.99,236.17, 2001.13,236.17, 2001.21,236.13, 2001.27,236.06, 2001.28,235.97, 2001.25,235.89, 2001.16,235.82, 2000.99,235.78, 2000.8,235.82, 2000.65,235.9, 2000.57,235.98],
  [2000.96,236.84, 2001.02,236.84, 2000.99,236.8],
  [2001.76,236.67, 2001.79,236.73, 2001.89,236.77, 2001.975,236.72, 2002.06,236.76, 2002.14,236.72, 2002.17,236.67, 2002.15,236.61, 2002.09,236.57, 2001.975,236.53, 2001.86,236.56, 2001.78,236.61],
  [1998.9,235.31, 1998.94,235.34, 1999.015,235.33, 1999.07,235.34, 1999.12,235.31, 1999.09,235.28, 1999.015,235.26, 1998.94,235.27],
];
const regions50 = [
  [1996.97,234.97, 1996.99,235.05, 1997,235.06, 1997.04,235.03, 1997.05,234.97, 1997,234.96],
  [1997.58,234.73, 1997.63,234.82, 1997.75,234.87, 1997.97,234.89, 1998.17,234.87, 1998.3,234.81, 1998.37,234.71, 1998.38,234.62, 1998.31,234.53, 1998.16,234.46, 1997.97,234.42, 1997.8,234.46, 1997.66,234.55, 1997.6,234.64],
  [1999.94,236.2, 1999.96,236.27, 2000.01,236.27, 2000.06,236.22, 2000.03,236.16, 2000.01,236.12, 1999.98,236.15],
  [2000.62,236.05, 2000.65,236.1, 2000.79,236.15, 2000.99,236.17, 2001.12,236.15, 2001.2,236.11, 2001.24,236.01, 2001.22,235.91, 2001.13,235.83, 2000.99,235.8, 2000.82,235.83, 2000.69,235.9, 2000.63,235.97],
  [2001.8,236.66, 2001.83,236.71, 2001.91,236.75, 2001.975,236.71, 2002.04,236.75, 2002.11,236.7, 2002.14,236.66, 2002.12,236.62, 2002.07,236.58, 2001.975,236.55, 2001.88,236.57, 2001.82,236.61],
  [1998.93,235.3, 1998.97,235.32, 1999.015,235.315, 1999.05,235.32, 1999.09,235.3, 1999.06,235.28, 1999.015,235.26, 1998.96,235.28],
];
const regions55 = [
  [1997.63,234.71, 1997.68,234.81, 1997.78,234.86, 1997.97,234.88, 1998.16,234.86, 1998.26,234.8, 1998.33,234.69, 1998.33,234.61, 1998.27,234.54, 1998.14,234.47, 1997.97,234.43, 1997.81,234.47, 1997.69,234.56, 1997.64,234.64],
  [1999.96,236.24, 1999.98,236.27, 2000.01,236.27, 2000.06,236.22, 2000.01,236.2, 1999.98,236.21],
  [2000.67,236.03, 2000.71,236.08, 2000.82,236.13, 2000.99,236.16, 2001.1,236.14, 2001.17,236.08, 2001.2,236, 2001.17,235.92, 2001.1,235.85, 2000.99,235.82, 2000.83,235.85, 2000.72,235.92, 2000.68,235.97],
  [2001.84,236.65, 2001.87,236.7, 2001.93,236.71, 2001.975,236.7, 2002.03,236.71, 2002.08,236.69, 2002.11,236.65, 2002.08,236.61, 2002.03,236.59, 2001.975,236.565, 2001.9,236.58, 2001.86,236.62],
];
const regions60 = [
  [1997.67,234.69, 1997.71,234.79, 1997.81,234.85, 1997.97,234.88, 1998.12,234.85, 1998.23,234.78, 1998.29,234.68, 1998.29,234.61, 1998.24,234.55, 1998.12,234.48, 1997.97,234.44, 1997.83,234.49, 1997.72,234.57, 1997.68,234.63],
  [2000.73,236.02, 2000.75,236.07, 2000.85,236.12, 2000.99,236.16, 2001.09,236.13, 2001.14,236.06, 2001.17,235.99, 2001.14,235.93, 2001.08,235.87, 2000.99,235.83, 2000.86,235.87, 2000.76,235.93, 2000.74,235.97],
  [2001.87,236.64, 2001.89,236.68, 2001.975,236.69, 2002.06,236.68, 2002.08,236.64, 2002.06,236.61, 2001.975,236.58, 2001.89,236.605],
  [1998.96,235.3, 1998.99,235.31, 1999.015,235.305, 1999.04,235.31, 1999.07,235.3, 1999.015,235.26],
];
const regions65 = [
  [1997.71,234.68, 1997.74,234.77, 1997.83,234.84, 1997.97,234.87, 1998.1,234.84, 1998.19,234.76, 1998.25,234.67, 1998.25,234.61, 1998.21,234.56, 1998.1,234.49, 1997.97,234.45, 1997.85,234.5, 1997.74,234.58, 1997.71,234.63],
  [2000.77,236.01, 2000.79,236.06, 2000.87,236.12, 2000.99,236.16, 2001.07,236.12, 2001.11,236.05, 2001.13,235.99, 2001.1,235.94, 2001.06,235.89, 2000.99,235.86, 2000.88,235.89, 2000.8,235.94, 2000.78,235.97],
  [2001.89,236.64, 2001.92,236.67, 2001.975,236.68, 2002.04,236.665, 2002.06,236.64, 2002.03,236.62, 2001.975,236.59, 2001.92,236.61],
];
const regions70 = [
  [1997.74,234.67, 1997.77,234.76, 1997.85,234.83, 1997.97,234.87, 1998.08,234.83, 1998.16,234.75, 1998.21,234.67, 1998.21,234.61, 1998.17,234.56, 1998.08,234.5, 1997.97,234.46, 1997.86,234.51, 1997.78,234.59, 1997.74,234.63],
  [2000.82,236, 2000.84,236.05, 2000.9,236.11, 2000.99,236.15, 2001.06,236.12, 2001.08,236.04, 2001.09,235.98, 2001.07,235.94, 2001.03,235.9, 2000.99,235.89, 2000.9,235.9, 2000.84,235.95],
  [2001.92,236.64, 2001.975,236.675, 2002.03,236.64, 2001.975,236.6],
];
const regions75 = [
  [1997.77,234.67, 1997.8,234.75, 1997.88,234.82, 1997.97,234.87, 1998.05,234.82, 1998.12,234.74, 1998.17,234.66, 1998.16,234.6, 1998.12,234.55, 1998.05,234.51, 1997.97,234.47, 1997.88,234.53, 1997.81,234.59, 1997.78,234.63],
  [2000.86,235.99, 2000.88,236.04, 2000.93,236.11, 2000.99,236.15, 2001.04,236.11, 2001.05,236.04, 2001.06,235.98, 2001.03,235.94, 2000.99,235.91, 2000.92,235.93, 2000.88,235.96],
  [2001.94,236.64, 2001.975,236.665, 2002.01,236.64, 2001.975,236.61],
];
const regions80 = [
  [1997.81,234.68, 1997.84,234.75, 1997.91,234.81, 1997.97,234.86, 1998.04,234.81, 1998.1,234.74, 1998.13,234.67, 1998.12,234.59, 1998.08,234.55, 1998.02,234.52, 1997.97,234.48, 1997.91,234.52, 1997.85,234.58, 1997.81,234.63],
  [2000.91,236, 2000.93,236.05, 2001.03,236.03, 2001.04,235.98, 2000.99,235.95, 2000.93,235.96],
  [2000.95,236.11, 2000.99,236.14, 2001.03,236.11, 2000.99,236.08],
  [1998.996,235.3, 1999.03,235.3, 1999.015,235.27],
];
const regions85 = [
  [1997.84,234.68, 1997.89,234.76, 1997.97,234.79, 1998.05,234.76, 1998.09,234.67, 1998.08,234.6, 1998.03,234.55, 1997.99,234.49, 1997.95,234.54, 1997.88,234.61],
];
const regions90 = [
  [1997.88,234.69, 1997.92,234.75, 1997.97,234.78, 1998.03,234.75, 1998.05,234.68, 1998.02,234.66, 1997.99,234.61, 1997.95,234.61, 1997.92,234.64],
];

const paintOrder: [number, number[][]][] = [
  [5, base5], [10, regions10], [5, islands5], [0, regions0], [15, regions15], [10, channel10], [5, channel5], [0, channel0],
  [20, regions20], [25, regions25], [30, regions30], [35, regions35], [40, regions40], [45, regions45], [50, regions50],
  [55, regions55], [60, regions60], [65, regions65], [70, regions70], [75, regions75], [80, regions80], [85, regions85], [90, regions90],
];

const serif = "Liberation Serif";

export default function App() {
  const ref = useRef<HTMLDivElement>(null);
  useEffect(() => {
    const chart = echarts.init(ref.current!, undefined, { renderer: "svg" });
    const flat: { level: number; pts: number[][] }[] = [];
    paintOrder.forEach(([level, polys]) => {
      polys.forEach((p) => {
        const pts: number[][] = [];
        for (let i = 0; i < p.length; i += 2) pts.push([p[i], p[i + 1]]);
        flat.push({ level, pts });
      });
    });
    const arrow = (year: number) => {
      const x = 146 + ((year - 1995.5) / 7) * 1502.5;
      return {
        type: "polygon",
        silent: true,
        shape: { points: [[x, 994], [x + 12, 1018], [x + 4, 1018], [x + 4, 1041], [x - 4, 1041], [x - 4, 1018], [x - 12, 1018]] },
        style: { fill: "#ff0000" },
      };
    };
    const mainX = {
      type: "value" as const, min: 1995.5, max: 2002.5, gridIndex: 0, z: 5,
      splitLine: { show: false },
      axisLine: { show: true, onZero: false, lineStyle: { color: "#333", width: 1.5 } },
      axisTick: { show: true, customValues: yearTicks, length: 15, lineStyle: { color: "#333", width: 1 } },
    };
    const mainY = {
      type: "value" as const, min: 234, max: 238, interval: 1, gridIndex: 0, z: 5,
      splitLine: { show: false },
      axisLine: { show: true, onZero: false, lineStyle: { color: "#333", width: 1.5 } },
    };
    chart.setOption({
      animation: false,
      backgroundColor: "#ffffff",
      textStyle: { fontFamily: serif },
      grid: [
        { left: 146, top: 176.5, width: 1502.5, height: 757.7, outerBoundsMode: "none" },
        { left: 497.5, top: 56, width: 737.5, height: 41, outerBoundsMode: "none" },
      ],
      xAxis: [
        {
          ...mainX, position: "bottom",
          name: "year", nameLocation: "middle", nameGap: 65,
          nameTextStyle: { fontFamily: serif, fontWeight: "bold", fontSize: 38, color: "#000" },
          axisLabel: { customValues: yearTicks, margin: 15, fontFamily: serif, fontSize: 33, color: "#000", formatter: (v: number) => String(v) },
        },
        { ...mainX, position: "top", axisLabel: { show: false } },
        {
          type: "value", min: 0, max: 95, gridIndex: 1, position: "bottom",
          splitLine: { show: false }, axisLine: { show: false }, axisTick: { show: false },
          axisLabel: { customValues: legendTicks, margin: 4, fontFamily: serif, fontSize: 23, color: "#000", formatter: (v: number) => String(v) },
        },
      ],
      yAxis: [
        {
          ...mainY, position: "left",
          name: "solar longitude (deg) [J2000.0]", nameLocation: "middle", nameRotate: 90, nameGap: 95,
          nameTextStyle: { fontFamily: serif, fontWeight: "bold", fontSize: 37, color: "#000" },
          axisTick: { show: true, length: 18, lineStyle: { color: "#333", width: 1 } },
          minorTick: { show: true, splitNumber: 10, length: 12, lineStyle: { color: "#333", width: 1 } },
          axisLabel: { margin: 20, fontFamily: serif, fontSize: 35, color: "#000" },
        },
        {
          ...mainY, position: "right",
          axisTick: { show: true, length: 5, lineStyle: { color: "#333", width: 1 } },
          axisLabel: { show: false },
        },
        { type: "value", min: 0, max: 1, gridIndex: 1, show: false },
      ],
      series: [
        {
          type: "custom", xAxisIndex: 0, yAxisIndex: 0, clip: true, silent: true, z: 1,
          data: flat.map((f, i) => [f.pts[0][0], f.pts[0][1], i]),
          renderItem: (_p: any, api: any) => {
            const f = flat[api.value(2)];
            return {
              type: "polygon",
              shape: { points: f.pts.map((q) => api.coord(q)), smooth: f.pts.length <= 4 ? 0 : f.level >= 40 ? 0.45 : 0.3 },
              style: {
                fill: levelShades[f.level],
                stroke: f.level >= 25 ? "rgba(190,190,190,0.35)" : "none",
                lineWidth: f.level >= 25 ? 0.5 : 0,
              },
            };
          },
        },
        {
          type: "custom", xAxisIndex: 2, yAxisIndex: 2, silent: true,
          data: legendLevels.map((l) => [l, 0]),
          renderItem: (_p: any, api: any) => {
            const l = api.value(0);
            const a = api.coord([l, 1]);
            const b = api.coord([l + 5, 0]);
            return {
              type: "rect",
              shape: { x: a[0], y: a[1], width: b[0] - a[0], height: b[1] - a[1] },
              style: { fill: levelShades[l], stroke: "#000", lineWidth: 1 },
            };
          },
        },
      ],
      graphic: [
        { type: "rect", silent: true, shape: { x: 0, y: 0, width: 1654, height: 4.5 }, style: { fill: "#000" } },
        { type: "rect", silent: true, shape: { x: 0, y: 0, width: 7, height: 1041 }, style: { fill: "#000" } },
        {
          type: "text", silent: true, x: 868, y: 22, scaleX: 1.11,
          style: { text: "Reflection time (%)", fontFamily: serif, fontWeight: "bold", fontSize: 31, fill: "#000", textAlign: "center", textVerticalAlign: "middle" },
        },
        ...arrowYears.map(arrow),
      ],
    });
    return () => chart.dispose();
  }, []);
  return <div ref={ref} style={{ position: "fixed", left: 0, top: 0, width: 1654, height: 1041 }} />;
}
